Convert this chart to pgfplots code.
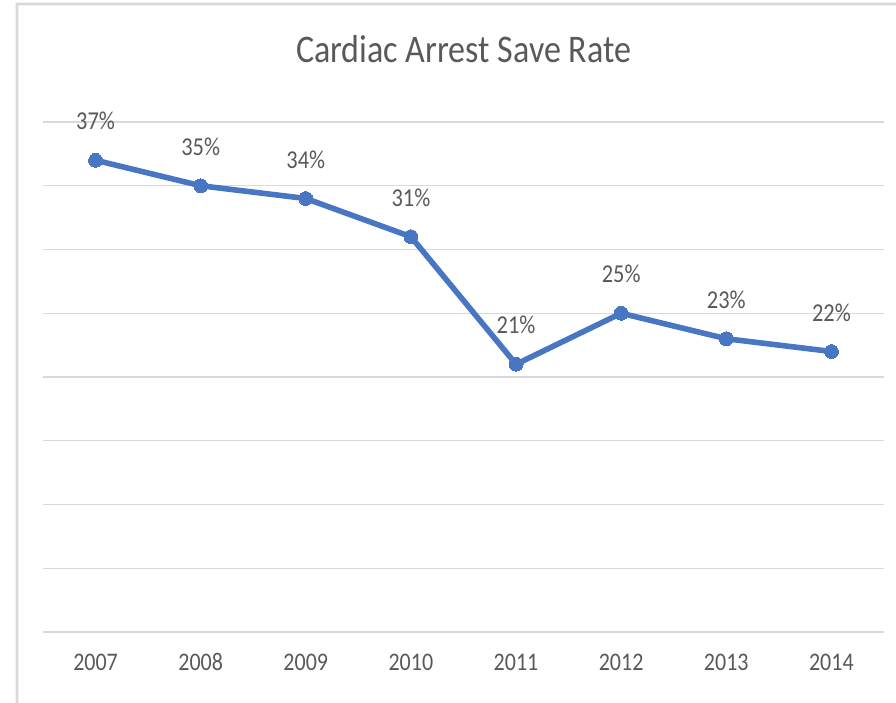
\documentclass[border=0pt]{standalone}
\usepackage{fontspec}
\setmainfont{Carlito}
\usepackage{graphicx}
\usepackage{pgfplots}
\pgfplotsset{compat=1.18}
\usetikzlibrary{calc}
\definecolor{lineblue}{RGB}{72,118,194}
\definecolor{txtgray}{RGB}{89,89,89}
\definecolor{gridgray}{RGB}{217,217,217}
% 1 px of the reference = 0.75pt
\newcommand{\vs}[1]{\scalebox{1}[1.15]{#1}}
\begin{document}
\begin{tikzpicture}
\begin{axis}[
  name=ax,
  scale only axis,
  width=630.75pt, height=382.5pt,
  xmin=2006.5, xmax=2014.5, ymin=0, ymax=40,
  xtick={2007,...,2014}, ytick={0,5,...,40},
  yticklabels={},
  major tick length=0pt,
  axis x line*=bottom, axis y line*=left,
  axis line style={draw=none},
  ymajorgrids, grid style={gridgray, line width=1.1pt},
  /pgf/number format/.cd, set thousands separator={}, assume math mode=true,
  /pgfplots/.cd,
  xticklabel style={font=\fontsize{16.5}{18}\selectfont, text=txtgray, anchor=center, yshift=-22.5pt},
  xticklabel={\vs{\pgfmathprintnumber[set thousands separator={}]{\tick}}},
  title={\vs{Cardiac Arrest Save Rate}},
  title style={font=\fontsize{25.5}{28}\selectfont, text=txtgray, at={(0.5,1)}, anchor=center, yshift=48.5pt},
  nodes near coords={\vs{\pgfmathprintnumber{\pgfplotspointmeta}\%}},
  nodes near coords style={font=\fontsize{16.8}{18}\selectfont, text=txtgray, anchor=center, yshift=29.3pt},
  clip=false
]
\addplot[color=lineblue, line width=4.2pt, mark=*, mark size=5.2pt, mark options={fill=lineblue, draw=lineblue, line width=0pt}]
  coordinates {(2007,37)(2008,35)(2009,34)(2010,31)(2011,21)(2012,25)(2013,23)(2014,22)};
\end{axis}
\pgfresetboundingbox
\useasboundingbox ($(ax.south west)+(-32.25pt,-53.25pt)$) rectangle ($(ax.north east)+(9pt,91.5pt)$);
\draw[gridgray, line width=2pt] ($(ax.south west)+(-19.5pt,-53.25pt)$) -- ($(ax.south west)+(-19.5pt,471pt)$) -- ($(ax.north east)+(9pt,88.5pt)$);
\end{tikzpicture}
\end{document}
